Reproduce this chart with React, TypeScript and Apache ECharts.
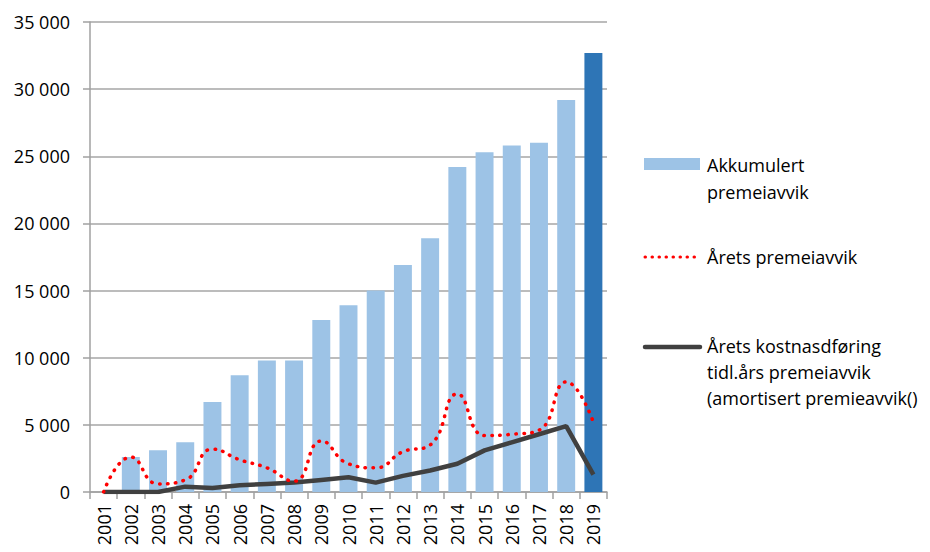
import React, { useEffect, useRef } from "react";
import * as echarts from "echarts";

const years = ["2001","2002","2003","2004","2005","2006","2007","2008","2009","2010","2011","2012","2013","2014","2015","2016","2017","2018","2019"];
const akkumulert = [0, 2600, 3100, 3700, 6700, 8700, 9800, 9800, 12800, 13900, 15000, 16900, 18900, 24200, 25300, 25800, 26000, 29200, 32700];
const aaretsPremieavvik = [0, 2600, 600, 900, 3200, 2400, 1800, 800, 3800, 2100, 1800, 3000, 3500, 7300, 4200, 4300, 4600, 8200, 5200];
const amortisert = [0, 0, 0, 400, 300, 500, 600, 700, 900, 1100, 700, 1200, 1600, 2100, 3100, 3700, 4300, 4900, 1300];
const yTicks = { min: 0, max: 35000, interval: 5000 };

const legendBar = "Akkumulert premeiavvik";
const legendRed = "Årets premeiavvik";
const legendBlack = "Årets kostnasdføring tidl.års premeiavvik (amortisert premieavvik()";

const FONT = "'Open Sans', 'Liberation Sans', sans-serif";
const LIGHT = "#9DC3E6";
const DARK = "#2E75B6";

export default function App() {
  const ref = useRef<HTMLDivElement>(null);
  useEffect(() => {
    if (!ref.current) return;
    const chart = echarts.init(ref.current, null, { renderer: "svg" });
    const fmt = (v: number) => String(v).replace(/\B(?=(\d{3})+(?!\d))/g, " ");
    chart.setOption({
      animation: false,
      backgroundColor: "#ffffff",
      grid: { left: 90, top: 22, right: 323, bottom: 60, containLabel: false },
      xAxis: {
        type: "category",
        data: years,
        boundaryGap: true,
        axisLine: { show: true, lineStyle: { color: "#A0A0A0", width: 1.5 } },
        axisTick: { show: true, length: 7, interval: 0, lineStyle: { color: "#A0A0A0", width: 1.5 } },
        axisLabel: { rotate: 90, interval: 0, margin: 12, color: "#000", fontSize: 18, fontFamily: FONT },
      },
      yAxis: {
        type: "value",
        min: yTicks.min,
        max: yTicks.max,
        interval: yTicks.interval,
        axisLine: { show: true, lineStyle: { color: "#A0A0A0", width: 1.5 } },
        axisTick: { show: true, length: 7, lineStyle: { color: "#A0A0A0", width: 1.5 } },
        splitLine: { show: true, lineStyle: { color: "#A6A6A6", width: 1.5 } },
        axisLabel: { margin: 20, color: "#000", fontSize: 18, fontFamily: FONT, formatter: fmt },
      },
      series: [
        {
          name: legendBar,
          type: "bar",
          barCategoryGap: "34%",
          data: akkumulert.map((v, i) => ({
            value: v,
            itemStyle: { color: i === akkumulert.length - 1 ? DARK : LIGHT },
          })),
          z: 1,
        },
        {
          name: legendRed,
          type: "line",
          data: aaretsPremieavvik,
          smooth: 0.5,
          symbol: "none",
          lineStyle: { color: "#FF0000", width: 3.5, type: [0.5, 7.5], cap: "round" },
          z: 3,
        },
        {
          name: legendBlack,
          type: "line",
          data: amortisert,
          symbol: "none",
          lineStyle: { color: "#404040", width: 4.5 },
          z: 2,
        },
      ],
      graphic: [
        { type: "rect", shape: { x: 644, y: 158, width: 56, height: 12 }, style: { fill: LIGHT } },
        {
          type: "text", x: 707, y: 151,
          style: { text: "Akkumulert\npremeiavvik", font: `18px ${FONT}`, fill: "#000", lineHeight: 27, textVerticalAlign: "top" },
        },
        {
          type: "line", shape: { x1: 645, y1: 257, x2: 700, y2: 257 },
          style: { stroke: "#FF0000", lineWidth: 3, lineDash: [0.5, 6.5], lineCap: "round" },
        },
        {
          type: "text", x: 707, y: 243,
          style: { text: "Årets premeiavvik", font: `18px ${FONT}`, fill: "#000", lineHeight: 27, textVerticalAlign: "top" },
        },
        {
          type: "line", shape: { x1: 645, y1: 347, x2: 700, y2: 347 },
          style: { stroke: "#404040", lineWidth: 4.5, lineCap: "round" },
        },
        {
          type: "text", x: 707, y: 333,
          style: { text: "Årets kostnasdføring\ntidl.års premeiavvik\n(amortisert premieavvik()", font: `18px ${FONT}`, fill: "#000", lineHeight: 26, textVerticalAlign: "top" },
        },
      ],
    });
    return () => chart.dispose();
  }, []);
  return <div ref={ref} style={{ width: 930, height: 552, position: "absolute", left: 0, top: 0 }} />;
}
